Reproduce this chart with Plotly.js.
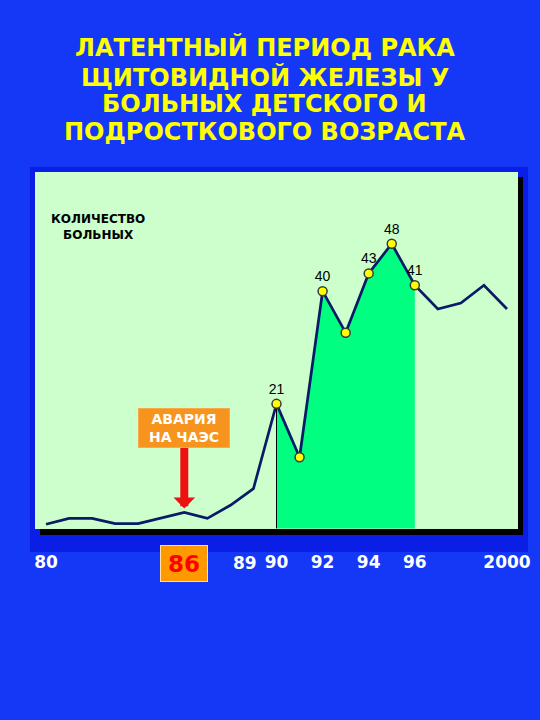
<!DOCTYPE html>
<html>
<head>
<meta charset="utf-8">
<script src="https://cdn.plot.ly/plotly-3.0.1.min.js"></script>
<style>
  html, body { margin: 0; padding: 0; background: #1438f5; }
  #chart { width: 540px; height: 720px; }
</style>
</head>
<body>
<div id="chart"></div>
<script>
// ---- data ----
var years = [1980,1981,1982,1983,1984,1985,1986,1987,1988,1989,1990,1991,1992,1993,1994,1995,1996,1997,1998,1999,2000];
var cases = [0.7,1.7,1.7,0.8,0.8,1.7,2.7,1.7,3.9,6.7,21,12,40,33,43,48,41,37,38,41,37];
var periodYears = [1990,1991,1992,1993,1994,1995,1996];
var periodLabels = ['21','','40','','43','48','41'];
var tickYears = [1980,1990,1992,1994,1996,2000];
var tickTexts = ['80','90','92','94','96','2000'];
var accidentYear = 1986;
var accidentLabel = '86';
var preYear = 1989;
var preLabel = '89';
var titleLines = ['ЛАТЕНТНЫЙ ПЕРИОД РАКА', 'ЩИТОВИДНОЙ ЖЕЛЕЗЫ У', 'БОЛЬНЫХ ДЕТСКОГО И', 'ПОДРОСТКОВОГО ВОЗРАСТА'];
var yLabel = 'КОЛИЧЕСТВО<br>БОЛЬНЫХ';
var accidentText = 'АВАРИЯ<br>НА ЧАЭС';

// ---- derived ----
function valueAt(y) { return cases[years.indexOf(y)]; }
var periodVals = periodYears.map(valueAt);
var startYear = periodYears[0];

var traces = [
  { // green shaded latent period
    x: periodYears, y: periodVals, type: 'scatter', mode: 'lines',
    fill: 'tozeroy', fillcolor: '#00ff80', line: {width: 0, color: '#00ff80'},
    hoverinfo: 'skip', showlegend: false
  },
  { // thin vertical edge at start of period
    x: [startYear, startYear], y: [0, valueAt(startYear)], type: 'scatter', mode: 'lines',
    line: {width: 1, color: '#000000'}, hoverinfo: 'skip', showlegend: false
  },
  { // main line
    x: years, y: cases, type: 'scatter', mode: 'lines',
    line: {width: 2.7, color: '#0a1a66'}, showlegend: false
  },
  { // markers + labels
    x: periodYears, y: periodVals, type: 'scatter', mode: 'markers+text',
    text: periodLabels, textposition: 'top center',
    textfont: {family: 'Liberation Sans, Arial, sans-serif', size: 14, color: '#000000'},
    marker: {size: 9, color: '#ffff00', line: {width: 1.5, color: '#3a3a3a'}},
    showlegend: false
  }
];

var tickFont = {family: 'DejaVu Sans, sans-serif', size: 17, color: '#ffffff', weight: 'bold'};

// plot area in pixels: x 35..518, y 172..529
var titleY = [1.350, 1.266, 1.190, 1.112];
var annotations = titleLines.map(function (t, i) {
  return {
    text: t, xref: 'paper', yref: 'paper', x: 0.476, y: titleY[i],
    xanchor: 'center', yanchor: 'middle', showarrow: false,
    font: {family: 'DejaVu Sans, sans-serif', size: 24, color: '#ffff00', weight: 'bold'}
  };
});
annotations.push(
  {
    text: yLabel, xref: 'paper', yref: 'paper', x: 0.13, y: 0.845,
    xanchor: 'center', yanchor: 'middle', showarrow: false, align: 'center',
    font: {family: 'DejaVu Sans, sans-serif', size: 12, color: '#000000', weight: 'bold'}
  },
  {
    text: accidentText, xref: 'x', yref: 'y', x: accidentYear, y: valueAt(accidentYear),
    showarrow: true, ax: 0, ay: -84, standoff: 4,
    arrowhead: 1, arrowsize: 0.45, arrowwidth: 8, arrowcolor: '#ee1111',
    width: 86, height: 34, borderpad: 2,
    bgcolor: '#f7941d', bordercolor: '#f9a94a', borderwidth: 1,
    align: 'center',
    font: {family: 'DejaVu Sans, sans-serif', size: 14, color: '#ffffff', weight: 'bold'}
  },
  {
    text: accidentLabel, xref: 'x', yref: 'paper', x: accidentYear, y: -0.098,
    xanchor: 'center', yanchor: 'middle', showarrow: false,
    width: 40, height: 29, borderpad: 3,
    bgcolor: '#ff9900', bordercolor: '#ffe0a0', borderwidth: 1,
    font: {family: 'DejaVu Sans, sans-serif', size: 23, color: '#ff0000', weight: 'bold'}
  },
  {
    text: preLabel, xref: 'x', yref: 'paper', x: preYear, y: -0.094,
    xanchor: 'center', yanchor: 'middle', showarrow: false, xshift: -8,
    font: tickFont
  }
);

var layout = {
  width: 540, height: 720,
  margin: {l: 35, r: 22, t: 172, b: 191, pad: 0},
  paper_bgcolor: '#1438f5',
  plot_bgcolor: 'rgba(0,0,0,0)',
  showlegend: false,
  xaxis: {
    range: [1979.523, 2000.477], showgrid: false, zeroline: false, showline: false,
    tickmode: 'array', tickvals: tickYears, ticktext: tickTexts, tickangle: 0,
    ticks: 'outside', ticklen: 18, tickcolor: 'rgba(0,0,0,0)',
    tickfont: tickFont,
    fixedrange: true
  },
  yaxis: {
    range: [-0.1, 60.1], showgrid: false, zeroline: false, showline: false,
    showticklabels: false, ticks: '', fixedrange: true
  },
  shapes: [
    { // darker blue frame
      type: 'rect', xref: 'paper', yref: 'paper', layer: 'below',
      x0: -0.0104, x1: 1.0207, y0: -0.0644, y1: 1.014,
      fillcolor: '#0a1ee6', line: {width: 0}
    },
    { // black shadow
      type: 'rect', xref: 'paper', yref: 'paper', layer: 'below',
      x0: 0.0104, x1: 1.0104, y0: -0.0168, y1: 0.986,
      fillcolor: '#000000', line: {width: 0}
    },
    { // light green panel
      type: 'rect', xref: 'paper', yref: 'paper', layer: 'below',
      x0: 0, x1: 1, y0: 0, y1: 1,
      fillcolor: '#ccffcc', line: {width: 0}
    }
  ],
  annotations: annotations
};

Plotly.newPlot('chart', traces, layout, {displayModeBar: false, staticPlot: true});
</script>
</body>
</html>
